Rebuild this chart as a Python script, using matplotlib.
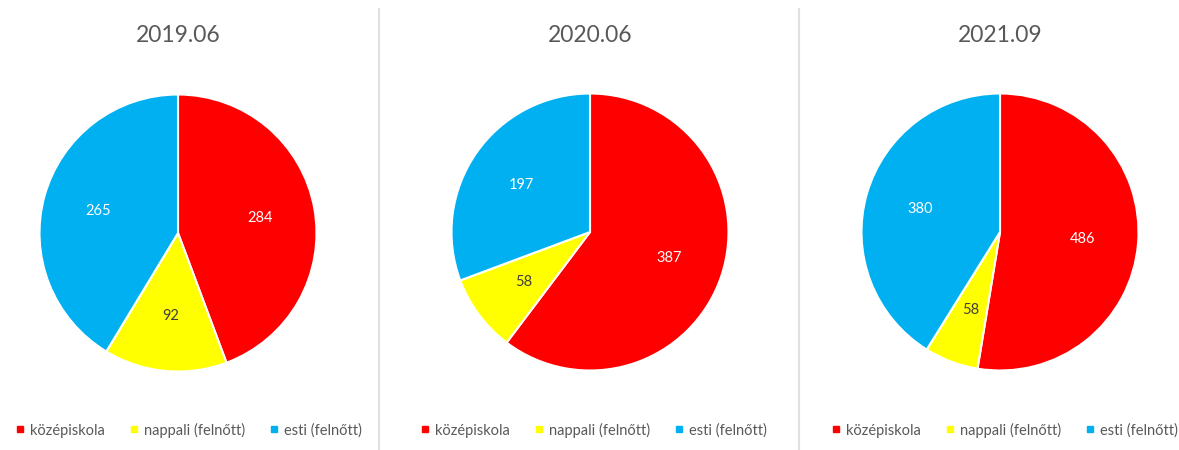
import matplotlib.pyplot as plt
from matplotlib.lines import Line2D

plt.rcParams['font.family'] = ['Lato', 'DejaVu Sans']

titles = ['2019.06', '2020.06', '2021.09']
categories = ['középiskola', 'nappali (felnőtt)', 'esti (felnőtt)']
values_2019 = [284, 92, 265]
values_2020 = [387, 58, 197]
values_2021 = [486, 58, 380]
colors = ['#FF0000', '#FFFF00', '#00B0F0']
label_colors = ['white', '#404040', 'white']

W, H = 1179, 450
fig = plt.figure(figsize=(W / 100, H / 100), dpi=100)

# pie centres and radius in pixels (from top-left)
centres = [(178, 233), (590, 232), (1000, 232)]
legend_x = [188, 593, 1004]
r = 138.5

for title, vals, (cx, cy), lx in zip(titles, [values_2019, values_2020, values_2021],
                                      centres, legend_x):
    ax = fig.add_axes([(cx - r) / W, (H - cy - r) / H, 2 * r / W, 2 * r / H])
    wedges, texts = ax.pie(vals, colors=colors, startangle=90, counterclock=False,
                           labels=[str(v) for v in vals], labeldistance=0.6,
                           wedgeprops=dict(edgecolor='white', linewidth=1.5),
                           textprops=dict(fontsize=10.5))
    for t, c in zip(texts, label_colors):
        t.set_ha('center')
        t.set_va('center')
        t.set_color(c)
    ax.set_aspect('equal')
    ax.set_xlim(-1, 1)
    ax.set_ylim(-1, 1)
    fig.text(cx / W, 1 - 35 / H, title, ha='center', va='center',
             fontsize=16.5, color='#595959')
    handles = [Line2D([], [], marker='s', linestyle='', markersize=5,
                      markerfacecolor=c, markeredgecolor=c) for c in colors]
    fig.legend(handles, categories, loc='center', bbox_to_anchor=(lx / W, 1 - 430 / H),
               ncol=3, frameon=False, fontsize=10.5, labelcolor='#595959',
               handletextpad=0.3, columnspacing=1.6, handlelength=0.8)

for x in [379, 799]:
    fig.add_artist(Line2D([x / W, x / W], [0, 1 - 9 / H], color='#e0e0e0', linewidth=1.5))

fig.savefig('out.png', dpi=100, facecolor='white')
